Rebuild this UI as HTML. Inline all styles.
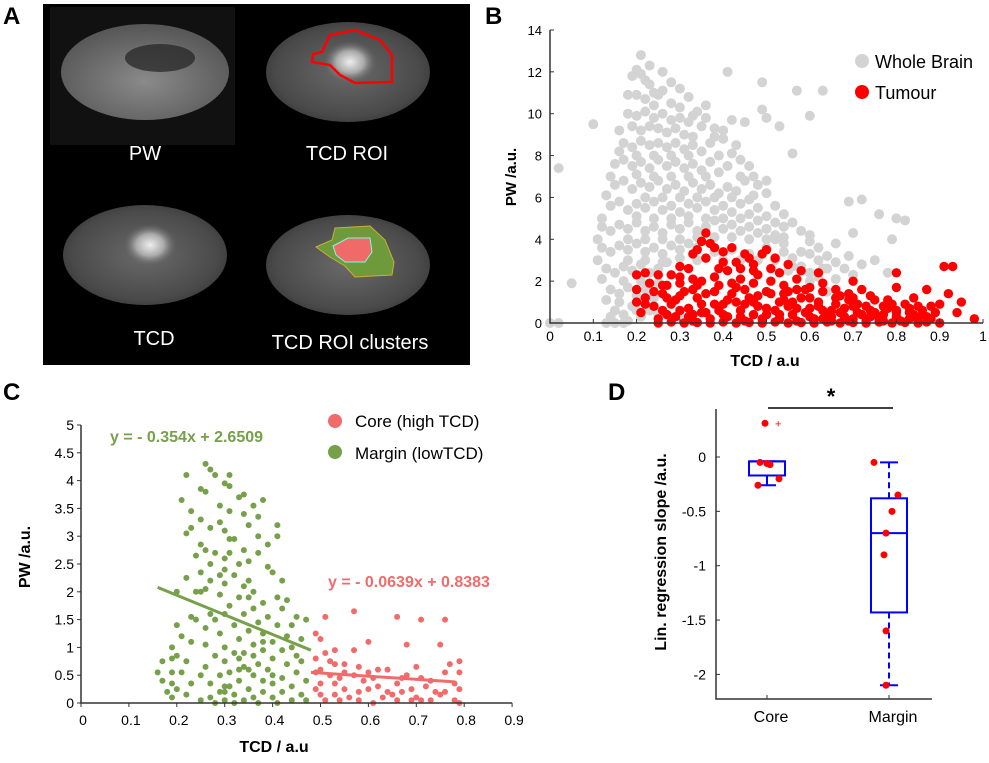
<!DOCTYPE html>
<html><head><meta charset="utf-8"><style>
html,body{margin:0;padding:0;background:#fff;}
svg{display:block;font-family:"Liberation Sans",Arial,sans-serif;}
</style></head><body>
<svg id="fig" width="989" height="763" viewBox="0 0 989 763">
<defs>
<radialGradient id="brainG" cx="50%" cy="50%" r="55%"><stop offset="0" stop-color="#6a6a6a"/><stop offset="0.8" stop-color="#4a4a4a"/><stop offset="1" stop-color="#3a3a3a"/></radialGradient>
<radialGradient id="pwG" cx="50%" cy="60%" r="60%"><stop offset="0" stop-color="#8a8a8a"/><stop offset="1" stop-color="#555"/></radialGradient>
<radialGradient id="hot" cx="50%" cy="50%" r="50%"><stop offset="0" stop-color="#eee"/><stop offset="0.5" stop-color="#aaa"/><stop offset="1" stop-color="#555" stop-opacity="0"/></radialGradient>
</defs>
<g>
<text x="3" y="24" font-size="24" font-weight="bold">A</text>
<rect x="43" y="4" width="427" height="361" fill="#000"/>
<rect x="50" y="7" width="185" height="138" fill="#111"/>
<ellipse cx="145" cy="72" rx="84" ry="48" fill="url(#pwG)"/>
<ellipse cx="160" cy="58" rx="35" ry="14" fill="#222" opacity="0.7"/>
<ellipse cx="348" cy="72" rx="82" ry="50" fill="url(#brainG)"/>
<ellipse cx="350" cy="62" rx="28" ry="22" fill="url(#hot)"/>
<path d="M313,54 L322,52 L330,35 L355,30 L380,40 L392,55 L392,82 L355,83 L340,75 L330,65 L312,62 Z" fill="none" stroke="#f00" stroke-width="2.5"/>
<ellipse cx="145" cy="255" rx="82" ry="50" fill="url(#brainG)"/>
<ellipse cx="150" cy="245" rx="28" ry="22" fill="url(#hot)"/>
<ellipse cx="348" cy="265" rx="82" ry="50" fill="url(#brainG)"/>
<path d="M316,247 L332,240 L335,228 L370,226 L385,240 L394,262 L392,275 L355,277 L345,266 L330,257 Z" fill="#6e9a3c" stroke="#c8b030" stroke-width="1"/>
<path d="M333,246 L348,238 L370,238 L372,252 L365,262 L345,262 L336,255 Z" fill="#f06a6a" stroke="#7fd" stroke-width="1"/>
<g fill="#fff" font-size="20" text-anchor="middle">
<text x="145" y="160">PW</text>
<text x="347" y="160">TCD ROI</text>
<text x="154" y="345">TCD</text>
<text x="350" y="349">TCD ROI clusters</text>
</g>
</g>
<text x="485" y="24" font-size="24" font-weight="bold">B</text>
<text x="3" y="400" font-size="24" font-weight="bold">C</text>
<text x="608" y="400" font-size="24" font-weight="bold">D</text>
<g id="gB"></g>
<g id="gC"></g>
<g id="gD"></g>
</svg>
<script>
const bXTicks=[0,0.1,0.2,0.3,0.4,0.5,0.6,0.7,0.8,0.9,1];
const bXTickLabels=["0","0.1","0.2","0.3","0.4","0.5","0.6","0.7","0.8","0.9","1"];
const bYTicks=[0,2,4,6,8,10,12,14];
const wholeBrainPoints=[[0.02,7.4],[0.05,1.9],[0.1,9.5],[0,0],[0.02,0],[0.13,0],[0.17,0],[0.21,12.8],[0.41,12.0],[0.49,11.5],[0.57,11.1],[0.63,11.1],[0.6,9.9],[0.53,9.4],[0.56,8.1],[0.69,5.8],[0.72,5.9],[0.76,5.2],[0.8,5.0],[0.82,4.9],[0.79,4.0],[0.69,3.2],[0.66,3.8],[0.6,4.2],[0.58,3.4],[0.63,2.6],[0.78,2.4],[0.7,4.3],[0.52,4.0],[0.54,4.1],[0.5,6.8],[0.47,7.0],[0.45,9.6],[0.49,10.2],[0.5,9.8],[0.43,8.5],[0.36,10.4],[0.33,9.9],[0.38,9.3],[0.42,9.7],
[0.2,12.1],[0.21,11.9],[0.22,11.6],[0.19,11.8],[0.23,11.4],[0.24,11.0],[0.18,10.9],[0.2,10.9],[0.22,10.7],[0.25,10.9],[0.26,11.1],[0.24,10.4],[0.28,10.5],[0.3,10.3],
[0.18,10.0],[0.2,9.9],[0.22,10.1],[0.24,9.8],[0.26,10.0],[0.28,9.7],[0.3,9.8],[0.32,9.6],[0.35,9.4],[0.19,9.4],[0.21,9.2],[0.23,9.4],[0.25,9.3],[0.27,9.1],[0.29,9.3],[0.31,9.0],[0.33,8.9],
[0.17,8.6],[0.19,8.4],[0.21,8.7],[0.23,8.5],[0.25,8.6],[0.27,8.4],[0.29,8.6],[0.31,8.3],[0.33,8.5],[0.35,8.2],[0.37,8.6],[0.39,8.0],[0.4,8.8],
[0.15,7.6],[0.17,7.8],[0.19,7.5],[0.21,7.7],[0.23,7.4],[0.25,7.8],[0.27,7.5],[0.29,7.7],[0.31,7.4],[0.33,7.6],[0.35,7.3],[0.37,7.7],[0.39,7.2],[0.41,7.5],[0.44,7.0],
[0.15,6.6],[0.17,6.8],[0.19,6.4],[0.21,6.7],[0.23,6.5],[0.25,6.8],[0.27,6.4],[0.29,6.6],[0.31,6.3],[0.33,6.7],[0.35,6.4],[0.37,6.6],[0.39,6.2],[0.41,6.5],[0.43,6.3],[0.45,6.8],[0.47,6.1],
[0.14,5.6],[0.16,5.8],[0.18,5.4],[0.2,5.7],[0.22,5.5],[0.24,5.8],[0.26,5.4],[0.28,5.6],[0.3,5.3],[0.32,5.7],[0.34,5.5],[0.36,5.8],[0.38,5.4],[0.4,5.6],[0.42,5.3],[0.44,5.7],[0.46,5.2],[0.48,5.5],[0.5,5.1],
[0.12,4.6],[0.14,4.4],[0.16,4.7],[0.18,4.5],[0.2,4.8],[0.22,4.4],[0.24,4.6],[0.26,4.3],[0.28,4.7],[0.3,4.5],[0.32,4.8],[0.34,4.4],[0.36,4.6],[0.38,4.9],[0.4,4.5],[0.42,4.7],[0.44,4.4],[0.46,4.6],[0.48,4.3],[0.5,4.5],[0.52,4.2],[0.54,4.6],
[0.12,3.6],[0.14,3.4],[0.16,3.7],[0.18,3.5],[0.2,3.8],[0.22,3.4],[0.24,3.6],[0.26,3.3],[0.28,3.7],[0.3,3.5],[0.32,3.8],[0.34,3.6],[0.38,3.4],[0.42,3.5],[0.46,3.3],[0.5,3.6],[0.54,3.4],[0.56,3.1],[0.6,3.3],[0.62,3.0],
[0.13,2.6],[0.15,2.4],[0.17,2.7],[0.19,2.5],[0.21,2.8],[0.23,2.4],[0.25,2.6],[0.27,2.9],[0.55,2.5],[0.58,2.7],[0.6,2.4],[0.62,2.2],[0.64,2.6],
[0.14,1.6],[0.16,1.4],[0.18,1.7],[0.2,1.3],[0.22,1.6],[0.24,1.2],[0.64,1.5],[0.66,1.2],[0.15,0.6],[0.17,0.4],[0.19,0.8],[0.21,0.3],[0.23,0.6],[0.15,0],[0.18,0.1],
[0.28,11.5],[0.26,12.0],[0.23,12.3],[0.3,11.2],[0.32,10.8],[0.34,10.1],[0.36,9.8],[0.38,8.9],[0.4,9.2],[0.42,8.1],[0.44,7.8],[0.46,7.5],[0.48,6.6],[0.5,6.2],[0.52,5.6],[0.54,5.2],[0.56,4.8],[0.58,4.4],[0.6,3.9],[0.62,3.6],[0.64,3.2],[0.66,2.9],[0.68,2.6],[0.16,8.2],[0.16,9.2],[0.14,7.0],[0.13,6.1],[0.12,5.0],[0.11,4.0],[0.11,3.0],[0.12,2.1],[0.13,1.1],[0.14,0.3],[0.2,8.0],[0.24,8.0],[0.28,8.0],[0.32,8.0],[0.36,7.0],[0.2,7.1],[0.24,7.0],[0.28,7.0],[0.32,7.0],[0.22,6.0],[0.26,6.0],[0.3,6.0],[0.34,6.0],[0.38,6.0],[0.42,6.0],[0.46,5.9],[0.2,5.1],[0.24,5.0],[0.28,5.0],[0.32,5.1],[0.36,5.0],[0.4,5.0],[0.44,5.0],[0.48,4.9],[0.52,4.8],[0.18,4.0],[0.22,4.0],[0.26,4.0],[0.3,4.0],[0.34,4.1],[0.38,4.1],[0.42,4.1],[0.46,4.0],[0.5,4.0],[0.54,3.8],[0.18,3.0],[0.22,3.0],[0.26,2.9],[0.3,3.1],[0.34,3.0],[0.4,3.0],[0.44,3.0],[0.48,3.0],[0.52,3.0],[0.56,2.7],[0.17,2.0],[0.21,2.0],[0.25,1.9],[0.6,2.0],[0.16,1.0],[0.2,0.6],[0.25,0.4],[0.3,0.3],[0.66,2.1],[0.7,2.3],[0.72,2.8],[0.75,3.0]];
const tumourPoints=[[0.36,4.3],[0.35,3.9],[0.37,3.8],[0.34,3.5],[0.33,3.3],[0.38,3.6],[0.42,3.6],[0.4,3.4],[0.45,3.3],[0.5,3.5],[0.49,3.3],[0.52,3.1],[0.43,2.9],[0.47,2.8],[0.55,2.8],[0.62,2.4],[0.3,2.7],[0.32,2.6],[0.28,2.3],[0.22,2.4],[0.25,2.3],[0.2,2.3],[0.3,1.9],[0.34,1.8],[0.38,2.2],[0.41,2.5],[0.44,2.1],[0.48,2.3],[0.51,2.0],[0.54,1.8],[0.57,2.1],[0.6,1.7],[0.63,1.5],[0.66,1.6],[0.69,1.4],[0.7,2.0],[0.72,1.6],[0.69,1.1],[0.8,2.4],[0.8,1.7],[0.87,1.6],[0.91,2.7],[0.93,2.7],[0.92,1.4],[0.95,1.0],[0.94,0.5],[0.98,0.2],[0.9,0],
[0.2,1.6],[0.22,1.2],[0.24,0.8],[0.26,1.4],[0.28,0.9],[0.3,1.3],[0.32,0.7],[0.34,1.2],[0.36,0.5],[0.38,1.5],[0.4,0.9],[0.42,1.4],[0.44,0.6],[0.46,1.2],[0.48,0.8],[0.5,1.5],[0.52,0.6],[0.54,1.1],[0.56,0.4],[0.58,1.2],[0.6,0.7],[0.62,1.0],[0.64,0.4],[0.66,0.9],[0.68,0.3],[0.7,0.8],[0.72,0.4],[0.74,0.6],[0.76,0.2],[0.78,0.7],[0.8,0.3],[0.82,0.9],[0.84,0.4],[0.86,0.6],[0.88,0.2],[0.9,0.9],
[0.21,0.5],[0.23,1.9],[0.25,0.2],[0.27,1.8],[0.29,0.3],[0.31,1.5],[0.33,0.1],[0.35,2.0],[0.37,0.2],[0.39,1.8],[0.41,0.3],[0.43,1.7],[0.45,0.1],[0.47,1.9],[0.49,0.2],[0.51,1.4],[0.53,0.2],[0.55,1.5],[0.57,0.1],[0.59,1.6],[0.61,0.2],[0.63,0.6],[0.65,0.1],[0.67,1.3],[0.69,0.1],[0.71,0.9],[0.73,0.1],[0.75,1.1],[0.77,0.1],[0.79,0.9],[0.81,0.1],[0.83,0.5],[0.85,0.1],[0.87,0.3],
[0.3,0.6],[0.35,0.9],[0.4,0.4],[0.45,0.9],[0.5,0.4],[0.55,0.8],[0.6,0.3],[0.65,0.6],[0.7,0.2],[0.75,0.5],[0.8,0.6],[0.85,0.8],[0.27,0.4],[0.33,0.4],[0.39,0.6],[0.43,1.0],[0.47,0.4],[0.53,1.0],[0.57,0.7],[0.63,0.2],[0.67,0.5],[0.73,0.8],[0.77,0.4],[0.83,0.2],[0.89,0.5],
[0.25,0],[0.28,0.05],[0.31,0],[0.34,0.02],[0.37,0],[0.4,0.05],[0.43,0],[0.46,0.03],[0.49,0],[0.52,0.05],[0.55,0],[0.58,0.02],[0.61,0],[0.64,0.05],[0.67,0],[0.7,0.03],[0.73,0],[0.76,0.05],[0.79,0],[0.82,0.03],[0.85,0],[0.87,0.05],
[0.26,0.6],[0.29,1.1],[0.32,0.3],[0.35,0.5],[0.38,0.9],[0.41,1.1],[0.44,0.3],[0.47,1.0],[0.5,0.7],[0.53,0.4],[0.56,1.0],[0.59,0.5],[0.62,0.8],[0.65,0.3],[0.68,0.7],[0.71,0.5],[0.74,0.3],[0.77,0.8],[0.8,0.5],[0.83,0.7],[0.86,0.4],[0.88,0.8],
[0.24,1.5],[0.27,1.2],[0.3,2.2],[0.33,1.6],[0.36,1.4],[0.39,2.6],[0.42,1.9],[0.45,1.6],[0.48,1.3],[0.51,2.6],[0.54,1.4],[0.57,1.6],[0.6,1.2],[0.63,1.9],[0.66,1.2],[0.7,1.2],[0.74,1.3],[0.78,1.1],[0.84,1.2],[0.22,0.9],[0.2,1.0],[0.46,3.1],[0.4,2.9],[0.36,3.1],[0.44,2.6],[0.53,2.4],[0.58,2.5],[0.47,2.5],[0.33,2.1],[0.26,1.8]];
const cXTicks=[0,0.1,0.2,0.3,0.4,0.5,0.6,0.7,0.8,0.9];
const cYTicks=[0,0.5,1,1.5,2,2.5,3,3.5,4,4.5,5];
const marginPoints=[[0.26,4.3],[0.27,4.2],[0.28,4.1],[0.31,4.1],[0.22,4.1],[0.31,3.9],[0.3,3.95],[0.25,3.85],[0.26,3.8],[0.33,3.7],[0.34,3.75],[0.21,3.65],[0.38,3.65],[0.36,3.55],[0.29,3.55],[0.31,3.45],[0.23,3.45],[0.34,3.4],[0.37,3.35],[0.25,3.3],[0.29,3.25],[0.41,3.2],[0.23,3.15],[0.27,3.15],[0.35,3.2],[0.3,3.1],[0.22,3.05],[0.41,3.0],[0.37,3.0],[0.31,2.95],[0.32,2.95],[0.25,2.85],[0.39,2.85],[0.34,2.75],[0.26,2.75],[0.28,2.7],[0.31,2.7],[0.37,2.7],[0.24,2.65],[0.3,2.6],[0.35,2.55],[0.27,2.5],[0.33,2.5],[0.39,2.45],[0.25,2.35],[0.29,2.3],[0.4,2.35],[0.32,2.3],[0.35,2.2],[0.22,2.25],[0.27,2.2],[0.3,2.15],[0.42,2.2],[0.26,2.05],[0.34,2.1],[0.36,2.0],[0.29,1.95],[0.2,2.0],[0.24,2.0],[0.41,1.9],[0.33,1.9],[0.38,1.8],[0.43,1.85],[0.31,1.75],[0.36,1.7],[0.42,1.7],[0.27,1.6],[0.3,1.6],[0.23,1.55],[0.34,1.6],[0.39,1.55],[0.45,1.55],[0.47,1.5],[0.24,1.5],[0.32,1.4],[0.37,1.45],[0.41,1.4],[0.44,1.4],[0.26,1.35],[0.2,1.4],[0.35,1.3],[0.38,1.25],[0.29,1.25],[0.43,1.2],[0.21,1.2],[0.33,1.15],[0.46,1.15],[0.23,1.1],[0.4,1.1],[0.36,1.05],[0.26,1.05],[0.3,1.0],[0.44,1.0],[0.19,1.0],[0.38,0.95],[0.34,0.9],[0.42,0.95],[0.2,0.85],[0.28,0.85],[0.45,0.85],[0.36,0.85],[0.33,0.8],[0.4,0.8],[0.19,0.8],[0.22,0.75],[0.17,0.75],[0.3,0.75],[0.46,0.75],[0.37,0.7],[0.26,0.65],[0.43,0.7],[0.34,0.65],[0.39,0.6],[0.16,0.55],[0.19,0.55],[0.21,0.55],[0.31,0.55],[0.45,0.55],[0.36,0.5],[0.25,0.5],[0.42,0.45],[0.29,0.5],[0.33,0.4],[0.17,0.4],[0.38,0.4],[0.47,0.4],[0.19,0.35],[0.23,0.35],[0.4,0.35],[0.27,0.35],[0.31,0.3],[0.44,0.3],[0.35,0.25],[0.2,0.25],[0.18,0.2],[0.38,0.2],[0.29,0.2],[0.42,0.2],[0.22,0.15],[0.32,0.15],[0.46,0.15],[0.27,0.1],[0.36,0.1],[0.19,0.1],[0.4,0.1],[0.3,0.05],[0.25,0.05],[0.34,0.05],[0.44,0.05],[0.28,0],[0.32,0],[0.37,0],[0.41,0],[0.47,0.05],[0.3,0.3],[0.33,0.6],[0.28,1.5],[0.35,1.9],[0.3,2.4],[0.25,2.0],[0.32,0.9],[0.38,1.1],[0.4,0.5],[0.3,0.2],[0.35,0.6]];
const corePoints=[[0.57,1.65],[0.51,1.55],[0.66,1.55],[0.71,1.5],[0.76,1.5],[0.49,1.25],[0.5,1.15],[0.6,1.1],[0.68,1.05],[0.75,1.05],[0.53,0.95],[0.57,0.95],[0.51,0.9],[0.49,0.8],[0.52,0.75],[0.79,0.75],[0.53,0.7],[0.55,0.7],[0.58,0.65],[0.7,0.65],[0.77,0.7],[0.5,0.6],[0.6,0.55],[0.64,0.6],[0.49,0.55],[0.76,0.55],[0.79,0.55],[0.52,0.5],[0.57,0.5],[0.61,0.45],[0.67,0.45],[0.71,0.45],[0.73,0.4],[0.54,0.45],[0.5,0.35],[0.53,0.35],[0.59,0.4],[0.62,0.3],[0.66,0.35],[0.72,0.3],[0.78,0.35],[0.49,0.25],[0.55,0.25],[0.58,0.2],[0.6,0.25],[0.64,0.2],[0.67,0.2],[0.69,0.25],[0.74,0.2],[0.76,0.2],[0.79,0.25],[0.5,0.15],[0.53,0.15],[0.56,0.1],[0.63,0.1],[0.65,0.15],[0.7,0.1],[0.71,0.05],[0.75,0.15],[0.51,0.05],[0.54,0.05],[0.58,0.05],[0.61,0],[0.66,0.05],[0.69,0.05],[0.73,0.05],[0.78,0.05],[0.79,0],[0.55,0.55],[0.62,0.6],[0.68,0.5]];
const marginFit=[[0.16,2.08],[0.48,0.95]];
const coreFit=[[0.48,0.55],[0.78,0.38]];
const dCategories=["Core","Margin"];
const dYTicks=[0,-0.5,-1,-1.5,-2];
const dYTickLabels=["0","-0.5","-1","-1.5","-2"];
const boxMedian=[-0.04,-0.7];
const boxQ1=[-0.17,-1.43];
const boxQ3=[-0.04,-0.38];
const whiskerLow=[-0.26,-2.1];
const whiskerHigh=[-0.04,-0.05];
const outliers=[[0,0.31]];
const corePointValues=[0.31,-0.05,-0.07,-0.06,-0.2,-0.26];
const marginPointValues=[-0.05,-0.35,-0.5,-0.7,-0.9,-1.6,-2.1];
const coreJitter=[-2,-7,3,0,12,-9];
const marginJitter=[-15,9,3,-3,-5,-3,-3];

const NS="http://www.w3.org/2000/svg";
function mk(parent,tag,attrs,text){const e=document.createElementNS(NS,tag);for(const k in attrs)e.setAttribute(k,attrs[k]);if(text!==undefined)e.textContent=text;parent.appendChild(e);return e;}

(function(){
const g=document.getElementById('gB');
const x=v=>550+v*433, y=v=>323-v*20.93;
for(const p of wholeBrainPoints){const c=mk(g,'circle',{cx:x(p[0]),cy:y(p[1]),r:5,fill:'#d3d3d3'});

}
for(const p of tumourPoints){const c=mk(g,'circle',{cx:x(p[0]),cy:y(p[1]),r:4.7,fill:'#f00'});

}
const ax=mk(g,'path',{d:`M${x(0)},${y(14)}V${y(0)}H${x(1)}`,stroke:'#333',fill:'none','stroke-width':1.5});


bXTicks.forEach((t,i)=>{mk(g,'line',{x1:x(t),x2:x(t),y1:y(0),y2:y(0)-4,stroke:'#333'});
const l=mk(g,'text',{x:x(t),y:341,'font-size':14,'text-anchor':'middle'},bXTickLabels[i]);

});
bYTicks.forEach(t=>{mk(g,'line',{x1:x(0),x2:x(0)+4,y1:y(t),y2:y(t),stroke:'#333'});
const l=mk(g,'text',{x:x(0)-8,y:y(t)+5,'font-size':13,'text-anchor':'end'},String(t));

});
const xt=mk(g,'text',{x:765,y:366,'font-size':16,'font-weight':'bold','text-anchor':'middle'},'TCD / a.u');


const yt=mk(g,'text',{x:0,y:0,'font-size':15,'font-weight':'bold','text-anchor':'middle',transform:'translate(516,177) rotate(-90)'},'PW /a.u.');


const l1=mk(g,'circle',{cx:862,cy:61,r:7,fill:'#d3d3d3'});


const t1=mk(g,'text',{x:875,y:68,'font-size':18},'Whole Brain');


const l2=mk(g,'circle',{cx:862,cy:92,r:7,fill:'#f00'});


const t2=mk(g,'text',{x:875,y:99,'font-size':18},'Tumour');


})();

(function(){
const g=document.getElementById('gC');
const x=v=>81+v*479, y=v=>703-v*55.6;
const GREEN='#76a04a', PINK='#f26b6b';
for(const p of marginPoints){const c=mk(g,'circle',{cx:x(p[0]),cy:y(p[1]),r:3,fill:GREEN});

}
for(const p of corePoints){const c=mk(g,'circle',{cx:x(p[0]),cy:y(p[1]),r:3,fill:PINK});

}
const f1=mk(g,'line',{x1:x(marginFit[0][0]),y1:y(marginFit[0][1]),x2:x(marginFit[1][0]),y2:y(marginFit[1][1]),stroke:GREEN,'stroke-width':3});


const f2=mk(g,'line',{x1:x(coreFit[0][0]),y1:y(coreFit[0][1]),x2:x(coreFit[1][0]),y2:y(coreFit[1][1]),stroke:PINK,'stroke-width':3});


const ax=mk(g,'path',{d:`M${x(0)},${y(5)}V${y(0)}H${x(0.9)}`,stroke:'#333',fill:'none','stroke-width':1.5});


cXTicks.forEach(t=>{mk(g,'line',{x1:x(t),x2:x(t),y1:y(0),y2:y(0)+4,stroke:'#333'});
const l=mk(g,'text',{x:x(t)+2,y:y(0)+22,'font-size':14,'text-anchor':'middle'},String(t));

});
cYTicks.forEach(t=>{mk(g,'line',{x1:x(0),x2:x(0)-4,y1:y(t),y2:y(t),stroke:'#333'});
const l=mk(g,'text',{x:x(0)-7,y:y(t)+5,'font-size':14,'text-anchor':'end'},String(t));

});
const xt=mk(g,'text',{x:274,y:752,'font-size':16,'font-weight':'bold','text-anchor':'middle'},'TCD / a.u');


const yt=mk(g,'text',{x:0,y:0,'font-size':16,'font-weight':'bold','text-anchor':'middle',transform:'translate(30,557) rotate(-90)'},'PW /a.u.');


const e1=mk(g,'text',{x:110,y:442,'font-size':16,'font-weight':'bold',fill:GREEN},'y = - 0.354x + 2.6509');


const e2=mk(g,'text',{x:328,y:587,'font-size':16,'font-weight':'bold',fill:PINK},'y = -  0.0639x + 0.8383');


const l1=mk(g,'circle',{cx:335,cy:421,r:7,fill:PINK});


const t1=mk(g,'text',{x:355,y:427,'font-size':17},'Core (high TCD)');


const l2=mk(g,'circle',{cx:335,cy:452,r:7,fill:GREEN});


const t2=mk(g,'text',{x:355,y:459,'font-size':17},'Margin (lowTCD)');


})();

(function(){
const g=document.getElementById('gD');
const y=v=>457-v*108.7;
const cx=[767,889], hw=18, BLUE='#0000ff';
const ax=mk(g,'path',{d:`M716,409V699H932`,stroke:'#333',fill:'none','stroke-width':1.5});


dYTicks.forEach((t,i)=>{mk(g,'line',{x1:716,x2:720,y1:y(t),y2:y(t),stroke:'#333'});
const l=mk(g,'text',{x:706,y:y(t)+5,'font-size':14,'text-anchor':'end'},dYTickLabels[i]);

});
dCategories.forEach((c,i)=>{mk(g,'line',{x1:cx[i],x2:cx[i],y1:699,y2:695,stroke:'#333'});
const l=mk(g,'text',{x:cx[i]+4,y:722,'font-size':16,'text-anchor':'middle'},c);


const dash=i===1?'6,4':'';
const w1=mk(g,'line',{x1:cx[i],x2:cx[i],y1:y(boxQ3[i]),y2:y(whiskerHigh[i]),stroke:BLUE,'stroke-width':2,'stroke-dasharray':dash});


const w2=mk(g,'line',{x1:cx[i],x2:cx[i],y1:y(boxQ1[i]),y2:y(whiskerLow[i]),stroke:BLUE,'stroke-width':2,'stroke-dasharray':dash});


mk(g,'line',{x1:cx[i]-9,x2:cx[i]+9,y1:y(whiskerHigh[i]),y2:y(whiskerHigh[i]),stroke:BLUE,'stroke-width':2});
mk(g,'line',{x1:cx[i]-9,x2:cx[i]+9,y1:y(whiskerLow[i]),y2:y(whiskerLow[i]),stroke:BLUE,'stroke-width':2});
const b=mk(g,'rect',{x:cx[i]-hw,y:y(boxQ3[i]),width:hw*2,height:y(boxQ1[i])-y(boxQ3[i]),fill:'none',stroke:BLUE,'stroke-width':2});


const m=mk(g,'line',{x1:cx[i]-hw,x2:cx[i]+hw,y1:y(boxMedian[i]),y2:y(boxMedian[i]),stroke:BLUE,'stroke-width':2});

});
outliers.forEach(o=>{const t=mk(g,'text',{x:cx[o[0]]+8,y:y(o[1])+4,'font-size':11,fill:'#f00'},'+');

});
corePointValues.forEach((v,i)=>{const c=mk(g,'circle',{cx:cx[0]+coreJitter[i],cy:y(v),r:3.5,fill:'#f00'});

});
marginPointValues.forEach((v,i)=>{const c=mk(g,'circle',{cx:cx[1]+marginJitter[i],cy:y(v),r:3.5,fill:'#f00'});

});
const sb=mk(g,'line',{x1:768,x2:893,y1:408,y2:408,stroke:'#000','stroke-width':1.5});


const st=mk(g,'text',{x:831,y:404,'font-size':22,'font-weight':'bold','text-anchor':'middle'},'*');


const yt=mk(g,'text',{x:0,y:0,'font-size':16,'font-weight':'bold','text-anchor':'middle',transform:'translate(666,552) rotate(-90)'},'Lin. regression slope /a.u.');


})();
</script>
</body></html>
